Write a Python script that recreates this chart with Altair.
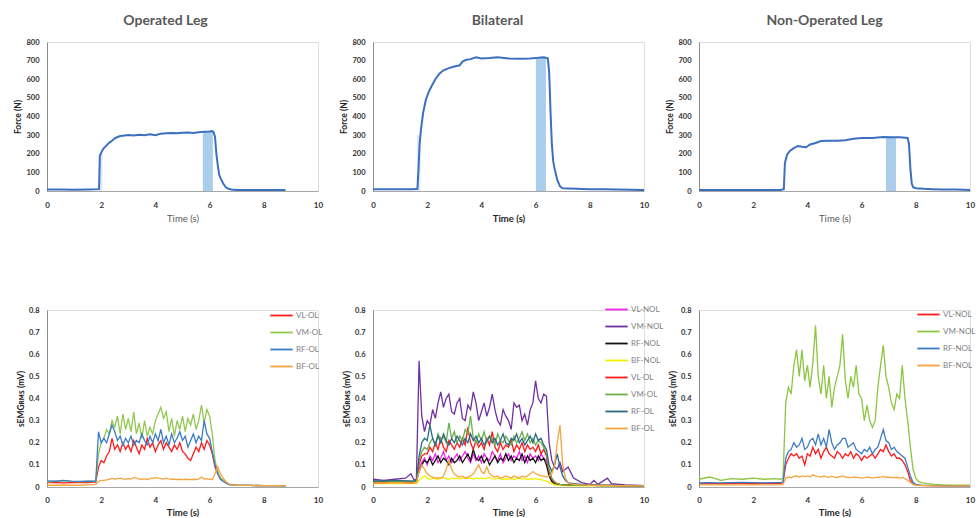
import altair as alt
import pandas as pd

FONT = "Lato"

# ---------------- Force data (top row) ----------------
force_ol_t = [0, 0.5, 1.0, 1.5, 1.92, 1.95, 2.0, 2.05, 2.1, 2.2, 2.3, 2.4, 2.5, 2.6, 2.7, 2.8,
              3.0, 3.2, 3.4, 3.6, 3.8, 4.0, 4.2, 4.4, 4.6, 4.8, 5.0, 5.2, 5.4, 5.6, 5.8,
              6.0, 6.1, 6.15, 6.2, 6.25, 6.3, 6.35, 6.4, 6.5, 6.6, 6.7, 6.8, 7.0, 7.5, 8.0, 8.5, 8.8]
force_ol = [8, 8, 7, 8, 10, 190, 205, 220, 230, 245, 260, 270, 283, 290, 295, 297,
            300, 298, 302, 300, 304, 300, 308, 310, 312, 310, 313, 314, 312, 316, 318,
            320, 322, 315, 290, 200, 140, 90, 70, 40, 20, 12, 8, 6, 5, 5, 5, 5]

force_bi_t = [0, 0.5, 1.0, 1.5, 1.64, 1.68, 1.72, 1.77, 1.85, 1.95, 2.05, 2.15, 2.3, 2.45, 2.6, 2.8,
              3.0, 3.2, 3.3, 3.45, 3.6, 3.8, 4.0, 4.3, 4.6, 5.0, 5.4, 5.8,
              6.1, 6.3, 6.45, 6.5, 6.55, 6.6, 6.65, 6.7, 6.8, 6.9, 7.0, 7.5, 8.0, 8.5, 9.0, 9.5, 10.0]
force_bi = [10, 10, 10, 10, 12, 120, 250, 330, 420, 490, 530, 560, 600, 630, 648, 660,
            668, 675, 695, 705, 708, 718, 712, 714, 718, 712, 710, 712,
            715, 718, 712, 640, 430, 250, 160, 120, 60, 25, 15, 12, 10, 9, 8, 7, 5]

force_nol_t = [0, 1, 2, 3.0, 3.13, 3.17, 3.25, 3.35, 3.5, 3.65, 3.8, 3.95, 4.1, 4.3, 4.5, 4.8,
               5.1, 5.4, 5.7, 6.0, 6.4, 6.8, 7.1, 7.4, 7.7, 7.75, 7.8, 7.85, 7.9, 8.0, 8.3, 8.6,
               9.0, 9.5, 10.0]
force_nol = [5, 5, 5, 5, 10, 150, 195, 215, 230, 242, 238, 235, 250, 258, 268, 270,
             270, 272, 280, 284, 285, 290, 289, 288, 285, 250, 120, 40, 20, 15, 12, 10,
             8, 8, 6]

# shaded windows: start, end, top
shade_ol_main = ([5.75], [6.12], [320])
shade_ol_faint = ([1.93], [2.05], [200])
shade_bi_main = ([6.01], [6.38], [720])
shade_bi_faint = ([1.62], [1.75], [300])
shade_nol_main = ([6.9], [7.27], [290])

# ---------------- sEMG data (bottom row) ----------------
t_ol = [0, 0.3, 0.6, 0.9, 1.2, 1.5, 1.8,
        1.9, 2.0, 2.1, 2.2, 2.3, 2.4, 2.5, 2.6, 2.7, 2.8, 2.9,
        3.0, 3.1, 3.2, 3.3, 3.4, 3.5, 3.6, 3.7, 3.8, 3.9,
        4.0, 4.1, 4.2, 4.3, 4.4, 4.5, 4.6, 4.7, 4.8, 4.9,
        5.0, 5.1, 5.2, 5.3, 5.4, 5.5, 5.6, 5.7, 5.8, 5.9,
        6.0, 6.1, 6.2, 6.3, 6.4,
        6.5, 6.6, 6.7, 6.8, 7.0, 7.5, 8.0, 8.5, 8.8]
vl_ol = [0.020, 0.021, 0.019, 0.020, 0.021, 0.020, 0.022,
         0.09, 0.12, 0.11, 0.14, 0.16, 0.22, 0.17, 0.19, 0.16, 0.20, 0.17,
         0.19, 0.16, 0.21, 0.18, 0.15, 0.19, 0.17, 0.22, 0.18, 0.20,
         0.16, 0.19, 0.21, 0.17, 0.20, 0.18, 0.16, 0.19, 0.17, 0.20,
         0.16, 0.15, 0.13, 0.12, 0.15, 0.18, 0.16, 0.20, 0.17, 0.21,
         0.19, 0.15, 0.09, 0.06, 0.04,
         0.03, 0.02, 0.012, 0.010, 0.008, 0.007, 0.006, 0.006, 0.005]
vm_ol = [0.022, 0.026, 0.028, 0.025, 0.023, 0.026, 0.025,
         0.15, 0.20, 0.22, 0.26, 0.24, 0.30, 0.27, 0.32, 0.24, 0.33, 0.26,
         0.31, 0.25, 0.34, 0.24, 0.29, 0.22, 0.30, 0.23, 0.27, 0.24,
         0.30, 0.33, 0.36, 0.31, 0.34, 0.25, 0.31, 0.23, 0.30, 0.26,
         0.32, 0.25, 0.31, 0.28, 0.33, 0.26, 0.30, 0.37, 0.29, 0.35,
         0.32, 0.24, 0.12, 0.07, 0.04,
         0.03, 0.02, 0.012, 0.010, 0.008, 0.007, 0.006, 0.006, 0.005]
rf_ol = [0.028, 0.026, 0.030, 0.027, 0.025, 0.026, 0.027,
         0.25, 0.20, 0.22, 0.20, 0.24, 0.28, 0.25, 0.21, 0.23, 0.19, 0.22,
         0.20, 0.23, 0.19, 0.21, 0.20, 0.24, 0.21, 0.19, 0.23, 0.20,
         0.24, 0.21, 0.26, 0.20, 0.23, 0.19, 0.24, 0.20, 0.22, 0.25,
         0.21, 0.23, 0.18, 0.21, 0.24, 0.20, 0.23, 0.21, 0.30, 0.24,
         0.22, 0.16, 0.10, 0.06, 0.035,
         0.025, 0.018, 0.012, 0.010, 0.008, 0.007, 0.006, 0.006, 0.005]
bf_ol = [0.008, 0.008, 0.009, 0.008, 0.008, 0.010, 0.012,
         0.025, 0.030, 0.030, 0.032, 0.035, 0.040, 0.035, 0.038, 0.040, 0.037, 0.035,
         0.038, 0.036, 0.042, 0.040, 0.036, 0.035, 0.037, 0.034, 0.038, 0.040,
         0.042, 0.040, 0.038, 0.036, 0.040, 0.037, 0.035, 0.036, 0.034, 0.035,
         0.033, 0.035, 0.034, 0.033, 0.035, 0.034, 0.036, 0.045, 0.036, 0.038,
         0.035, 0.034, 0.060, 0.090, 0.060,
         0.040, 0.025, 0.015, 0.010, 0.008, 0.007, 0.006, 0.006, 0.005]

t_bi = [0, 0.4, 0.8, 1.2, 1.4, 1.5, 1.6,
        1.7, 1.8, 1.9,
        2.0, 2.1, 2.2, 2.3, 2.4, 2.5, 2.6, 2.7, 2.8, 2.9,
        3.0, 3.1, 3.2, 3.3, 3.4, 3.5, 3.6, 3.7, 3.8, 3.9,
        4.0, 4.1, 4.2, 4.3, 4.4, 4.5, 4.6, 4.7, 4.8, 4.9,
        5.0, 5.1, 5.2, 5.3, 5.4, 5.5, 5.6, 5.7, 5.8, 5.9,
        6.0, 6.1, 6.2, 6.3, 6.4, 6.5,
        6.6, 6.7, 6.8, 6.9, 7.0, 7.1, 7.2, 7.4, 7.7, 8.0, 8.15, 8.3, 8.65, 8.8, 9.3, 10.0]
vl_nol_bi = [0.020, 0.020, 0.022, 0.020, 0.021, 0.020, 0.020,
             0.08, 0.11, 0.13,
             0.10, 0.14, 0.12, 0.15, 0.11, 0.13, 0.16, 0.12, 0.14, 0.11,
             0.13, 0.15, 0.12, 0.14, 0.16, 0.13, 0.11, 0.15, 0.12, 0.14,
             0.11, 0.15, 0.13, 0.12, 0.16, 0.14, 0.12, 0.15, 0.11, 0.13,
             0.15, 0.12, 0.14, 0.13, 0.16, 0.12, 0.14, 0.11, 0.15, 0.13,
             0.14, 0.12, 0.15, 0.13, 0.12, 0.06,
             0.03, 0.02, 0.015, 0.012, 0.010, 0.010, 0.009, 0.008, 0.008, 0.007, 0.007, 0.006, 0.006, 0.006, 0.005, 0.005]
vm_nol_bi = [0.035, 0.030, 0.035, 0.040, 0.060, 0.035, 0.030,
             0.57, 0.32, 0.25,
             0.30, 0.28, 0.35, 0.31, 0.38, 0.43, 0.36, 0.40, 0.42, 0.34,
             0.33, 0.38, 0.40, 0.31, 0.30, 0.37, 0.35, 0.43, 0.38, 0.30,
             0.34, 0.38, 0.32, 0.36, 0.42, 0.35, 0.30, 0.28, 0.35, 0.32,
             0.30, 0.26, 0.38, 0.36, 0.37, 0.30, 0.33, 0.28, 0.35, 0.38,
             0.48, 0.40, 0.38, 0.42, 0.41, 0.20,
             0.12, 0.09, 0.08, 0.11, 0.07, 0.08, 0.09, 0.04, 0.02, 0.012, 0.03, 0.012, 0.04, 0.015, 0.010, 0.006]
rf_nol_bi = [0.025, 0.025, 0.026, 0.025, 0.025, 0.025, 0.025,
             0.07, 0.10, 0.12,
             0.11, 0.13, 0.10, 0.12, 0.14, 0.11, 0.13, 0.12, 0.10, 0.13,
             0.11, 0.12, 0.14, 0.11, 0.13, 0.15, 0.12, 0.17, 0.13, 0.12,
             0.14, 0.11, 0.13, 0.10, 0.12, 0.14, 0.11, 0.13, 0.12, 0.15,
             0.12, 0.14, 0.11, 0.13, 0.12, 0.15, 0.11, 0.14, 0.12, 0.13,
             0.11, 0.14, 0.12, 0.13, 0.10, 0.05,
             0.025, 0.015, 0.012, 0.010, 0.010, 0.009, 0.009, 0.008, 0.008, 0.007, 0.007, 0.006, 0.006, 0.006, 0.005, 0.005]
bf_nol_bi = [0.015, 0.015, 0.016, 0.015, 0.015, 0.015, 0.015,
             0.03, 0.04, 0.05,
             0.04, 0.035, 0.04, 0.038, 0.035, 0.04, 0.042, 0.038, 0.035, 0.04,
             0.038, 0.04, 0.036, 0.04, 0.042, 0.038, 0.04, 0.036, 0.04, 0.038,
             0.04, 0.037, 0.04, 0.042, 0.038, 0.036, 0.04, 0.038, 0.035, 0.037,
             0.036, 0.038, 0.035, 0.037, 0.04, 0.036, 0.038, 0.035, 0.037, 0.036,
             0.038, 0.035, 0.034, 0.03, 0.028, 0.02,
             0.015, 0.01, 0.008, 0.007, 0.006, 0.006, 0.005, 0.005, 0.005, 0.005, 0.005, 0.005, 0.005, 0.005, 0.005, 0.005]
vl_ol_bi = [0.018, 0.020, 0.022, 0.020, 0.019, 0.020, 0.021,
            0.10, 0.14, 0.15,
            0.15, 0.18, 0.16, 0.20, 0.17, 0.22, 0.18, 0.16, 0.21, 0.19,
            0.17, 0.20, 0.18, 0.22, 0.19, 0.27, 0.20, 0.17, 0.21, 0.18,
            0.20, 0.17, 0.22, 0.19, 0.25, 0.18, 0.16, 0.20, 0.17, 0.19,
            0.18, 0.21, 0.16, 0.19, 0.17, 0.20, 0.16, 0.19, 0.17, 0.18,
            0.16, 0.19, 0.15, 0.17, 0.14, 0.07,
            0.035, 0.02, 0.015, 0.012, 0.010, 0.010, 0.009, 0.009, 0.008, 0.008, 0.008, 0.007, 0.007, 0.007, 0.006, 0.006]
vm_ol_bi = [0.022, 0.025, 0.024, 0.026, 0.025, 0.024, 0.025,
            0.12, 0.16, 0.18,
            0.17, 0.20, 0.22, 0.19, 0.24, 0.21, 0.23, 0.20, 0.29, 0.22,
            0.25, 0.20, 0.23, 0.21, 0.26, 0.24, 0.32, 0.22, 0.20, 0.24,
            0.21, 0.25, 0.20, 0.23, 0.22, 0.19, 0.24, 0.21, 0.20, 0.23,
            0.21, 0.19, 0.23, 0.20, 0.22, 0.25, 0.21, 0.24, 0.20, 0.22,
            0.19, 0.21, 0.20, 0.18, 0.15, 0.08,
            0.04, 0.025, 0.015, 0.012, 0.010, 0.010, 0.009, 0.008, 0.008, 0.007, 0.007, 0.007, 0.006, 0.006, 0.006, 0.005]
rf_ol_bi = [0.028, 0.027, 0.030, 0.028, 0.027, 0.028, 0.030,
            0.14, 0.20, 0.22,
            0.21, 0.28, 0.22, 0.19, 0.23, 0.20, 0.24, 0.21, 0.19, 0.22,
            0.20, 0.23, 0.21, 0.19, 0.22, 0.20, 0.24, 0.21, 0.23, 0.20,
            0.22, 0.19, 0.21, 0.23, 0.20, 0.22, 0.19, 0.21, 0.24, 0.20,
            0.19, 0.22, 0.21, 0.24, 0.20, 0.22, 0.19, 0.21, 0.23, 0.20,
            0.24, 0.21, 0.22, 0.19, 0.17, 0.10,
            0.07, 0.10, 0.15, 0.09, 0.05, 0.03, 0.02, 0.015, 0.012, 0.010, 0.010, 0.009, 0.008, 0.008, 0.007, 0.006]
bf_ol_bi = [0.018, 0.018, 0.020, 0.018, 0.018, 0.020, 0.020,
            0.07, 0.10, 0.08,
            0.06, 0.05, 0.045, 0.04, 0.042, 0.04, 0.05, 0.08, 0.12, 0.08,
            0.06, 0.05, 0.045, 0.05, 0.04, 0.045, 0.05, 0.06, 0.08, 0.10,
            0.07, 0.06, 0.09, 0.06, 0.05, 0.045, 0.05, 0.04, 0.045, 0.05,
            0.045, 0.04, 0.05, 0.045, 0.04, 0.05, 0.045, 0.05, 0.06, 0.07,
            0.06, 0.055, 0.05, 0.05, 0.045, 0.05,
            0.06, 0.10, 0.20, 0.28, 0.10, 0.04, 0.02, 0.012, 0.010, 0.008, 0.008, 0.007, 0.007, 0.006, 0.006, 0.005]

t_nol = [0, 0.4, 0.8, 1.2, 1.6, 2.0, 2.4, 2.8, 3.0, 3.1,
         3.2, 3.3, 3.4, 3.5, 3.6, 3.7, 3.8, 3.9,
         4.0, 4.1, 4.2, 4.3, 4.4, 4.5, 4.6, 4.7, 4.8, 4.9,
         5.0, 5.1, 5.2, 5.3, 5.4, 5.5, 5.6, 5.7, 5.8, 5.9,
         6.0, 6.1, 6.2, 6.3, 6.4, 6.5, 6.6, 6.7, 6.8, 6.9,
         7.0, 7.1, 7.2, 7.3, 7.4, 7.5, 7.6, 7.7, 7.8,
         7.9, 8.0, 8.1, 8.2, 8.4, 8.7, 9.0, 9.5, 10.0]
vl_nol = [0.015, 0.016, 0.015, 0.017, 0.016, 0.015, 0.016, 0.017, 0.016, 0.020,
          0.10, 0.13, 0.15, 0.14, 0.15, 0.13, 0.14, 0.10,
          0.15, 0.14, 0.18, 0.15, 0.17, 0.13, 0.16, 0.18, 0.15, 0.14,
          0.13, 0.16, 0.15, 0.13, 0.15, 0.14, 0.16, 0.13, 0.15, 0.14,
          0.12, 0.14, 0.13, 0.14, 0.15, 0.13, 0.15, 0.17, 0.16, 0.19,
          0.16, 0.14, 0.15, 0.13, 0.13, 0.12, 0.10, 0.07, 0.03,
          0.015, 0.010, 0.008, 0.007, 0.006, 0.006, 0.005, 0.005, 0.005]
vm_nol = [0.035, 0.045, 0.030, 0.038, 0.035, 0.040, 0.035, 0.038, 0.035, 0.040,
          0.38, 0.45, 0.42, 0.55, 0.62, 0.50, 0.62, 0.48,
          0.55, 0.45, 0.56, 0.73, 0.50, 0.42, 0.55, 0.40, 0.50, 0.36,
          0.45, 0.50, 0.55, 0.69, 0.48, 0.40, 0.50, 0.45, 0.55, 0.42,
          0.40, 0.30, 0.37, 0.30, 0.27, 0.30, 0.45, 0.55, 0.64, 0.50,
          0.45, 0.38, 0.35, 0.42, 0.40, 0.55, 0.40, 0.30, 0.18,
          0.08, 0.04, 0.025, 0.020, 0.015, 0.012, 0.010, 0.008, 0.008]
rf_nol = [0.018, 0.020, 0.019, 0.020, 0.021, 0.020, 0.019, 0.020, 0.020, 0.022,
          0.13, 0.16, 0.17, 0.20, 0.18, 0.19, 0.22, 0.17,
          0.18, 0.21, 0.22, 0.19, 0.24, 0.19, 0.22, 0.18, 0.26, 0.20,
          0.17, 0.19, 0.20, 0.22, 0.22, 0.18, 0.19, 0.20, 0.17, 0.16,
          0.15, 0.17, 0.16, 0.18, 0.15, 0.17, 0.18, 0.22, 0.26, 0.21,
          0.20, 0.17, 0.18, 0.16, 0.15, 0.14, 0.13, 0.09, 0.05,
          0.020, 0.012, 0.009, 0.008, 0.007, 0.006, 0.006, 0.005, 0.005]
bf_nol = [0.010, 0.010, 0.011, 0.010, 0.010, 0.011, 0.010, 0.010, 0.010, 0.012,
          0.040, 0.045, 0.042, 0.048, 0.050, 0.045, 0.050, 0.047,
          0.050, 0.045, 0.055, 0.050, 0.048, 0.045, 0.050, 0.046, 0.044, 0.048,
          0.045, 0.043, 0.047, 0.050, 0.045, 0.044, 0.042, 0.045, 0.044, 0.042,
          0.040, 0.042, 0.045, 0.043, 0.040, 0.042, 0.044, 0.045, 0.048, 0.044,
          0.045, 0.043, 0.042, 0.044, 0.040, 0.042, 0.038, 0.030, 0.020,
          0.012, 0.008, 0.007, 0.006, 0.006, 0.005, 0.005, 0.005, 0.005]

x_ticks = [0, 2, 4, 6, 8, 10]
force_ticks = [0, 100, 200, 300, 400, 500, 600, 700, 800]
emg_ticks = [0, 0.1, 0.2, 0.3, 0.4, 0.5, 0.6, 0.7, 0.8]

# ---------------- styling ----------------
LINE_BLUE = "#3d6fc0"
SHADE_MAIN = "#a9cdea"
SHADE_FAINT = "#dcebf7"
TOP_W, TOP_H = 271, 149
BOT_W, BOT_H = 271, 177
AXIS_GRAY = "#a6a6a6"


def x_axis(bottom_row, bold_title):
    return alt.Axis(values=x_ticks, title="Time (s)", grid=False, ticks=False,
                    domainColor=AXIS_GRAY, labelFont=FONT, labelFontSize=8,
                    labelFontWeight="bold", labelColor="#333333", labelFlush=False,
                    labelPadding=9 if bottom_row else 10,
                    titleFont=FONT, titleFontSize=9.5,
                    titleFontWeight="bold" if bold_title else "normal",
                    titleColor="#262626" if bold_title else "#595959",
                    titlePadding=3 if bottom_row else 4)


def y_axis(title, values, label_expr=None):
    kw = dict(values=values, title=title, grid=False, ticks=False,
              domainColor="#8c8c8c", labelFont=FONT, labelFontSize=7.5,
              labelFontWeight="bold", labelColor="#333333", labelPadding=8,
              labelFlush=False,
              titleFont=FONT, titleFontSize=8.5, titleFontWeight="bold",
              titleColor="#262626", titlePadding=3)
    if label_expr:
        kw["labelExpr"] = label_expr
    return alt.Axis(**kw)


def force_panel(title, t, f, shades_main, shades_faint, x_bold, dx):
    df = pd.DataFrame({"t": t, "f": f})
    xs = alt.Scale(domain=[0, 10], nice=False)
    ys = alt.Scale(domain=[0, 800], nice=False)
    layers = []
    for shades, col in ((shades_faint, SHADE_FAINT), (shades_main, SHADE_MAIN)):
        if shades is None:
            continue
        sdf = pd.DataFrame({"x0": shades[0], "x1": shades[1], "top": shades[2]})
        layers.append(alt.Chart(sdf).mark_rect(color=col, clip=True).encode(
            x=alt.X("x0:Q", scale=xs, axis=x_axis(False, x_bold)),
            x2="x1:Q",
            y=alt.Y("top:Q", scale=ys, axis=y_axis("Force (N)", force_ticks)),
            y2=alt.datum(0)))
    line = alt.Chart(df).mark_line(color=LINE_BLUE, strokeWidth=2, clip=True).encode(
        x=alt.X("t:Q", scale=xs, axis=x_axis(False, x_bold)),
        y=alt.Y("f:Q", scale=ys, axis=y_axis("Force (N)", force_ticks)))
    layers.append(line)
    return alt.layer(*layers).properties(
        width=TOP_W, height=TOP_H,
        title=alt.TitleParams(title, font=FONT, fontSize=14, fontWeight="bold",
                              color="#595959", anchor="middle", offset=10, dx=dx))


def emg_panel(t, series, names, colors, lx, ly):
    rows = []
    for name, vals in zip(names, series):
        for ti, vi in zip(t, vals):
            rows.append({"t": ti, "v": vi, "s": name})
    df = pd.DataFrame(rows)
    return alt.Chart(df).mark_line(strokeWidth=1.3, clip=True).encode(
        x=alt.X("t:Q", scale=alt.Scale(domain=[0, 10], nice=False), axis=x_axis(True, True)),
        y=alt.Y("v:Q", scale=alt.Scale(domain=[0, 0.8], nice=False),
                axis=y_axis("sEMG\u0280\u1d0d\ua731 (mV)", emg_ticks,
                            "datum.value == 0 ? '0' : format(datum.value, '.1f')")),
        color=alt.Color("s:N", scale=alt.Scale(domain=names, range=colors),
                        legend=alt.Legend(title=None, orient="none", legendX=lx, legendY=ly,
                                          symbolType="stroke", symbolSize=500,
                                          symbolStrokeWidth=1.8, labelFont=FONT,
                                          labelFontSize=8, labelColor="#7f7f7f",
                                          labelOffset=2, rowPadding=0, padding=0)),
        order=alt.value(0),
    ).properties(width=BOT_W, height=BOT_H)


p1 = force_panel("Operated Leg", force_ol_t, force_ol, shade_ol_main, shade_ol_faint, False, -17)
p2 = force_panel("Bilateral", force_bi_t, force_bi, shade_bi_main, shade_bi_faint, True, -11)
p3 = force_panel("Non-Operated Leg", force_nol_t, force_nol, shade_nol_main, None, False, -10)

p4 = emg_panel(t_ol, [vl_ol, vm_ol, rf_ol, bf_ol],
               ["VL-OL", "VM-OL", "RF-OL", "BF-OL"],
               ["#ff1a1a", "#92c850", "#3b7cc4", "#f5a540"], 222, -7)
p5 = emg_panel(t_bi, [vl_nol_bi, vm_nol_bi, rf_nol_bi, bf_nol_bi, vl_ol_bi, vm_ol_bi, rf_ol_bi, bf_ol_bi],
               ["VL-NOL", "VM-NOL", "RF-NOL", "BF-NOL", "VL-OL", "VM-OL", "RF-OL", "BF-OL"],
               ["#ee22ee", "#7030a0", "#111111", "#f0f000", "#ff1a1a", "#6ab04c", "#2b6a83", "#f5a540"],
               231, -13)
p6 = emg_panel(t_nol, [vl_nol, vm_nol, rf_nol, bf_nol],
               ["VL-NOL", "VM-NOL", "RF-NOL", "BF-NOL"],
               ["#ff1a1a", "#8cc63f", "#3b7cc4", "#f5a540"], 217, -8)

chart = alt.concat(p1, p2, p3, p4, p5, p6, columns=3,
                   spacing={"row": 119, "column": 55}, bounds="flush").resolve_scale(
    color="independent").properties(
    padding={"left": 13, "top": 13, "right": 0, "bottom": 0}).configure_view(
    stroke=None).configure(background="white")

chart.save("out.html", embed_options={"renderer": "svg", "actions": False})
